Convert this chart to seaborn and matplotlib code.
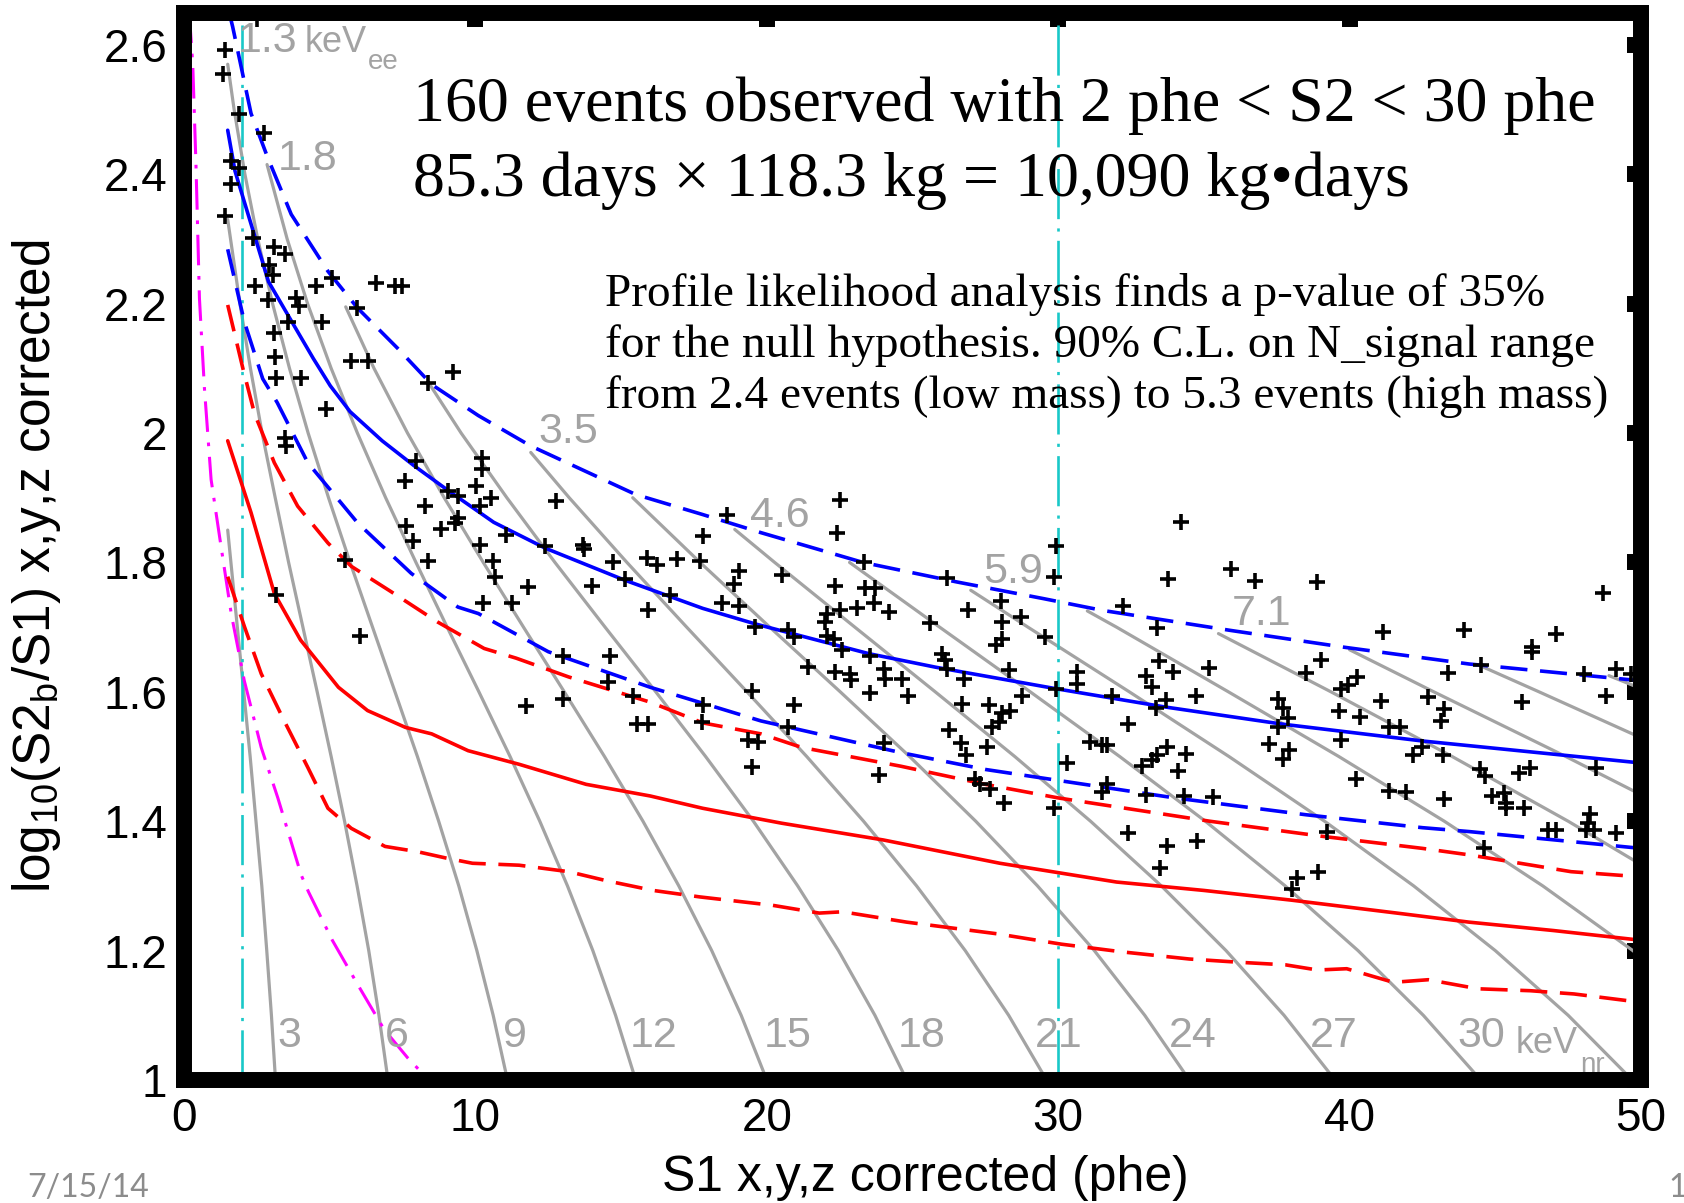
import matplotlib
matplotlib.use("Agg")
import matplotlib.pyplot as plt
import pandas as pd
import seaborn as sns

# ---------------- events (S1, log10(S2b/S1)) ----------------
event_s1 = [
    2.52, 1.39, 1.33, 1.90, 2.76, 1.62, 1.90, 1.62, 1.39, 2.36,
    3.10, 3.45, 2.90, 3.05, 2.42, 4.54, 5.08, 6.60, 7.23, 7.48,
    2.88, 3.85, 3.96, 3.58, 4.73, 5.95, 3.10, 3.13, 5.74, 6.33,
    3.16, 4.00, 8.37, 9.23, 4.88,
    3.45, 3.50, 7.97, 7.57, 10.21, 10.23, 8.26, 9.06, 9.40, 10.03,
    10.55, 10.15, 7.63, 8.83, 9.29, 9.40, 7.86, 10.15, 11.06, 12.78,
    12.38, 13.70, 13.72, 14.73, 15.88, 15.13, 15.93, 8.37, 10.61, 10.67,
    11.81, 14.00, 5.51, 3.16, 6.03, 10.26, 11.24, 13.01, 14.61, 14.56,
    13.01, 11.75, 15.42, 15.53, 15.93,
    16.22, 16.91, 17.71, 17.80, 18.63, 16.69, 19.03, 18.86, 18.45, 19.03,
    19.60, 17.80, 17.77, 19.48, 19.37, 19.70,
    22.52, 22.41, 20.52, 23.32, 26.19, 29.91, 29.85, 22.35, 23.38, 23.72,
    23.67, 23.09, 22.52, 22.06, 22.00, 24.18, 22.06, 22.29, 22.58, 23.55,
    20.74, 20.92, 21.43, 22.35, 22.86, 22.90, 24.01, 24.04, 24.64, 24.85,
    23.55, 25.61, 26.91, 28.02, 28.08, 28.71, 28.08, 27.85, 29.56, 26.01,
    26.13, 26.19, 28.31, 26.76, 29.91, 30.65, 30.65, 28.76, 26.70, 27.62,
    28.08, 28.36, 27.96, 27.73, 26.24, 20.95, 20.74, 19.48, 24.01, 23.84,
    26.65, 26.82, 27.56, 30.31, 27.16, 27.33, 27.67, 28.13, 29.85,
    34.20, 33.77, 35.92, 36.76, 38.87, 32.22, 33.40, 41.13, 33.46, 33.94,
    35.18, 33.00, 33.23, 31.83, 33.71, 34.72, 33.34, 32.41, 39.01, 38.50,
    37.53, 37.70, 37.90, 37.53, 39.70, 39.93, 40.24, 39.62, 40.35, 41.08,
    41.36, 41.73, 39.70, 42.17, 42.50, 37.22, 37.93, 37.70, 31.09, 31.51,
    31.68, 32.86, 33.23, 33.40, 33.75, 34.40, 34.12, 31.68, 31.49, 33.02,
    34.32, 35.32, 40.22, 41.36, 41.94, 32.41, 33.75, 34.78, 33.48, 39.24,
    38.18, 38.90, 38.04,
    48.69, 43.93, 47.10, 46.27, 46.27, 43.38, 44.50, 48.06, 49.15, 49.67,
    42.68, 43.25, 43.14, 45.90, 48.79, 43.22, 43.25, 44.46, 44.66, 45.83,
    46.20, 48.45, 44.88, 45.30, 45.36, 45.36, 45.97, 48.24, 48.18, 48.10,
    48.40, 46.80, 47.10, 49.13, 44.60,
]
event_logr = [
    2.640, 2.592, 2.555, 2.493, 2.463, 2.421, 2.410, 2.385, 2.335, 2.302,
    2.287, 2.276, 2.260, 2.245, 2.227, 2.227, 2.240, 2.232, 2.227, 2.227,
    2.206, 2.208, 2.196, 2.172, 2.172, 2.194, 2.155, 2.118, 2.112, 2.112,
    2.085, 2.085, 2.078, 2.094, 2.037,
    1.993, 1.980, 1.957, 1.926, 1.962, 1.944, 1.887, 1.910, 1.903, 1.918,
    1.900, 1.887, 1.856, 1.851, 1.861, 1.869, 1.833, 1.827, 1.843, 1.895,
    1.825, 1.827, 1.820, 1.800, 1.807, 1.774, 1.726, 1.802, 1.802, 1.778,
    1.762, 1.764, 1.804, 1.750, 1.687, 1.737, 1.738, 1.656, 1.656, 1.615,
    1.589, 1.578, 1.594, 1.550, 1.550,
    1.796, 1.805, 1.802, 1.841, 1.874, 1.750, 1.786, 1.767, 1.738, 1.733,
    1.700, 1.579, 1.553, 1.602, 1.525, 1.523,
    1.897, 1.846, 1.781, 1.800, 1.776, 1.825, 1.778, 1.763, 1.760, 1.760,
    1.737, 1.729, 1.726, 1.721, 1.708, 1.724, 1.687, 1.682, 1.664, 1.656,
    1.695, 1.685, 1.639, 1.630, 1.628, 1.618, 1.636, 1.620, 1.620, 1.594,
    1.598, 1.707, 1.727, 1.741, 1.708, 1.716, 1.681, 1.672, 1.685, 1.659,
    1.649, 1.636, 1.634, 1.620, 1.605, 1.630, 1.612, 1.594, 1.581, 1.579,
    1.567, 1.571, 1.554, 1.545, 1.541, 1.579, 1.545, 1.484, 1.521, 1.472,
    1.521, 1.503, 1.514, 1.490, 1.465, 1.458, 1.450, 1.428, 1.421,
    1.862, 1.774, 1.790, 1.772, 1.770, 1.733, 1.698, 1.693, 1.648, 1.630,
    1.637, 1.625, 1.608, 1.594, 1.587, 1.593, 1.575, 1.551, 1.649, 1.629,
    1.589, 1.575, 1.559, 1.546, 1.605, 1.611, 1.623, 1.571, 1.561, 1.586,
    1.546, 1.546, 1.525, 1.503, 1.514, 1.520, 1.510, 1.496, 1.523, 1.518,
    1.518, 1.485, 1.494, 1.502, 1.514, 1.504, 1.477, 1.457, 1.445, 1.440,
    1.439, 1.437, 1.465, 1.446, 1.445, 1.382, 1.361, 1.369, 1.328, 1.383,
    1.312, 1.321, 1.295,
    1.753, 1.696, 1.689, 1.669, 1.662, 1.629, 1.642, 1.627, 1.636, 1.627,
    1.592, 1.573, 1.555, 1.585, 1.594, 1.502, 1.435, 1.480, 1.470, 1.475,
    1.483, 1.483, 1.439, 1.444, 1.428, 1.420, 1.421, 1.411, 1.397, 1.387,
    1.387, 1.387, 1.387, 1.382, 1.359,
]

# ---------------- ER band (blue) ----------------
er_mid_s1 = [1.5, 1.75, 2.2, 2.9, 3.7, 4.44, 5.02, 5.7, 6.8, 7.88, 9.1, 10.63,
             12.4, 15.1, 17.8, 19.6, 23.5, 25.8, 29.9, 33.6, 37.7, 42.5, 50.0]
er_mid_y = [2.468, 2.405, 2.338, 2.234, 2.172, 2.115, 2.073, 2.033, 1.988, 1.950,
            1.910, 1.862, 1.822, 1.773, 1.729, 1.705, 1.659, 1.638, 1.605, 1.577,
            1.550, 1.524, 1.490]
er_hi_s1 = [1.55, 1.67, 2.3, 2.87, 3.68, 4.94, 5.96, 7.33, 8.5, 10.1, 11.9, 15.5,
            17.8, 19.8, 23.3, 26.5, 29.5, 31.5, 35.9, 39.8, 44.1, 50.0]
er_hi_y = [2.650, 2.628, 2.494, 2.426, 2.338, 2.250, 2.193, 2.131, 2.075, 2.027,
           1.980, 1.905, 1.874, 1.846, 1.800, 1.770, 1.744, 1.726, 1.695, 1.669,
           1.643, 1.617]
er_lo_s1 = [1.5, 2.07, 2.7, 3.2, 4.25, 5.96, 7.8, 9.4, 10.1, 12.5, 16.0, 19.8,
            24.6, 27.5, 30.6, 34.0, 38.5, 42.5, 44.1, 50.0]
er_lo_y = [2.284, 2.172, 2.084, 2.047, 1.954, 1.861, 1.783, 1.731, 1.721, 1.662,
           1.607, 1.555, 1.506, 1.480, 1.459, 1.436, 1.410, 1.390, 1.384, 1.358]

# ---------------- NR band (red) ----------------
nr_mid_s1 = [1.5, 2.3, 3.1, 4.0, 5.3, 6.3, 7.6, 8.5, 9.75, 11.5, 13.8, 16.0, 17.8,
             20.5, 24.0, 28.0, 32.0, 35.0, 38.0, 41.8, 44.1, 47.0, 50.0]
nr_mid_y = [1.988, 1.877, 1.752, 1.680, 1.607, 1.571, 1.545, 1.535, 1.509, 1.488,
            1.457, 1.439, 1.420, 1.397, 1.371, 1.335, 1.306, 1.293, 1.278, 1.257,
            1.244, 1.231, 1.216]
nr_hi_s1 = [1.5, 2.02, 2.42, 3.1, 3.9, 4.94, 5.74, 7.1, 8.7, 10.3, 11.4, 13.2, 16.0,
            17.8, 19.8, 21.2, 24.6, 27.5, 30.0, 35.2, 39.0, 42.5, 44.1, 47.6, 50.0]
nr_hi_y = [2.198, 2.100, 2.030, 1.954, 1.887, 1.830, 1.794, 1.755, 1.708, 1.667,
           1.652, 1.623, 1.584, 1.552, 1.535, 1.514, 1.485, 1.457, 1.436, 1.400,
           1.377, 1.358, 1.348, 1.322, 1.314]
nr_lo_s1 = [1.5, 2.08, 2.65, 3.44, 4.25, 4.94, 5.74, 6.9, 8.0, 9.0, 9.9, 11.5, 13.2,
            14.5, 16.1, 17.7, 20.2, 21.8, 22.6, 24.8, 27.9, 30.1, 32.2, 34.5, 36.2,
            37.8, 38.9, 39.9, 41.5, 42.7, 44.4, 46.2, 47.7, 50.0]
nr_lo_y = [1.778, 1.700, 1.628, 1.555, 1.483, 1.420, 1.389, 1.361, 1.353, 1.343,
           1.335, 1.332, 1.322, 1.308, 1.293, 1.283, 1.270, 1.258, 1.260, 1.244,
           1.226, 1.210, 1.198, 1.187, 1.182, 1.178, 1.170, 1.172, 1.151, 1.155,
           1.141, 1.138, 1.133, 1.120]

# ---------------- magenta dash-dot curve ----------------
mag_s1 = [0.18, 0.30, 0.41, 0.53, 0.70, 0.93, 1.27, 1.62, 2.07, 2.65, 3.22, 4.02,
          4.27, 5.09, 5.98, 6.87, 7.68, 8.40]
mag_y = [2.650, 2.570, 2.416, 2.208, 2.070, 1.928, 1.825, 1.721, 1.617, 1.514,
         1.436, 1.317, 1.291, 1.216, 1.146, 1.078, 1.034, 1.000]

# ---------------- S1 analysis thresholds (cyan) ----------------
s1_threshold = [2, 30]

# ---------------- gray constant-energy contours (keVnr) ----------------
nr3_s1 = [1.50, 1.61, 1.83, 2.05, 2.27, 2.47, 2.67, 2.84, 3.00, 3.14]
nr3_y = [1.85, 1.80, 1.70, 1.60, 1.50, 1.40, 1.30, 1.20, 1.10, 1.00]
nr6_s1 = [1.50, 1.92, 2.28, 2.68, 3.13, 3.59, 4.08, 4.57, 5.05, 5.51, 5.94, 6.34, 6.69, 7.00]
nr6_y = [2.33, 2.20, 2.10, 2.00, 1.90, 1.80, 1.70, 1.60, 1.50, 1.40, 1.30, 1.20, 1.10, 1.00]
nr9_s1 = [1.50, 1.72, 2.09, 2.53, 3.04, 3.62, 4.26, 4.96, 5.70, 6.47, 7.24, 8.01, 8.74,
          9.43, 10.05, 10.61, 11.10]
nr9_y = [2.57, 2.50, 2.40, 2.30, 2.20, 2.10, 2.00, 1.90, 1.80, 1.70, 1.60, 1.50, 1.40,
         1.30, 1.20, 1.10, 1.00]
nr12_s1 = [2.85, 3.54, 4.24, 5.05, 5.95, 6.92, 7.96, 9.03, 10.12, 11.19, 12.21, 13.16,
           14.03, 14.81, 15.50]
nr12_y = [2.415, 2.30, 2.20, 2.10, 2.00, 1.90, 1.80, 1.70, 1.60, 1.50, 1.40, 1.30,
          1.20, 1.10, 1.00]
nr15_s1 = [5.55, 6.52, 7.67, 8.93, 10.27, 11.65, 13.05, 14.43, 15.75, 16.98, 18.11, 19.12, 20.00]
nr15_y = [2.195, 2.10, 2.00, 1.90, 1.80, 1.70, 1.60, 1.50, 1.40, 1.30, 1.20, 1.10, 1.00]
nr18_s1 = [8.42, 9.51, 11.08, 12.73, 14.45, 16.19, 17.90, 19.54, 21.06, 22.46, 23.71, 24.80]
nr18_y = [2.076, 2.00, 1.90, 1.80, 1.70, 1.60, 1.50, 1.40, 1.30, 1.20, 1.10, 1.00]
nr21_s1 = [11.90, 13.22, 15.20, 17.25, 19.32, 21.37, 23.32, 25.14, 26.81, 28.30, 29.60]
nr21_y = [1.97, 1.90, 1.80, 1.70, 1.60, 1.50, 1.40, 1.30, 1.20, 1.10, 1.00]
nr24_s1 = [15.40, 17.71, 20.10, 22.52, 24.90, 27.17, 29.29, 31.24, 32.97, 34.50]
nr24_y = [1.90, 1.80, 1.70, 1.60, 1.50, 1.40, 1.30, 1.20, 1.10, 1.00]
nr27_s1 = [18.90, 20.27, 23.02, 25.78, 28.51, 31.11, 33.54, 35.76, 37.75, 39.50]
nr27_y = [1.851, 1.80, 1.70, 1.60, 1.50, 1.40, 1.30, 1.20, 1.10, 1.00]
nr30_s1 = [22.84, 25.93, 29.04, 32.11, 35.05, 37.79, 40.29, 42.53, 44.50]
nr30_y = [1.80, 1.70, 1.60, 1.50, 1.40, 1.30, 1.20, 1.10, 1.00]
nr33_s1 = [27.00, 28.96, 32.44, 35.86, 39.14, 42.20, 45.00, 47.50, 49.70]
nr33_y = [1.757, 1.70, 1.60, 1.50, 1.40, 1.30, 1.20, 1.10, 1.00]
nr36_s1 = [31.00, 32.00, 35.84, 39.63, 43.25, 46.63, 49.72, 50.00]
nr36_y = [1.725, 1.70, 1.60, 1.50, 1.40, 1.30, 1.20, 1.19]
nr39_s1 = [35.50, 39.36, 43.52, 47.50, 50.00]
nr39_y = [1.69, 1.60, 1.50, 1.40, 1.333]
nr42_s1 = [40.00, 42.89, 47.42, 50.00]
nr42_y = [1.665, 1.60, 1.50, 1.441]
nr45_s1 = [44.50, 46.50, 50.00]
nr45_y = [1.64, 1.60, 1.529]
nr48_s1 = [48.90, 50.00]
nr48_y = [1.625, 1.605]

# ---------------- labels ----------------
ee_labels = ["1.3", "1.8", "3.5", "4.6", "5.9", "7.1"]
ee_label_s1 = [1.85, 3.23, 12.15, 19.42, 27.42, 35.96]
ee_label_y = [2.589, 2.406, 1.985, 1.855, 1.768, 1.703]
nr_labels = ["3", "6", "9", "12", "15", "18", "21", "24", "27", "30"]
nr_label_s1 = [3.2, 6.88, 10.94, 15.3, 19.9, 24.5, 29.2, 33.8, 38.65, 43.7]
nr_label_y = 1.051

x_ticks = [0, 10, 20, 30, 40, 50]
x_tick_labels = ["0", "10", "20", "30", "40", "50"]
y_ticks = [1.0, 1.2, 1.4, 1.6, 1.8, 2.0, 2.2, 2.4, 2.6]
y_tick_labels = ["1", "1.2", "1.4", "1.6", "1.8", "2", "2.2", "2.4", "2.6"]

title_lines = ["160 events observed with 2 phe < S2 < 30 phe",
               "85.3 days \u00d7 118.3 kg = 10,090 kg\u2022days"]
note_lines = ["Profile likelihood analysis finds a p-value of 35%",
              "for the null hypothesis. 90% C.L. on N_signal range",
              "from 2.4 events (low mass) to 5.3 events (high mass)"]

# ---------------- style ----------------
sns.set_theme(style="white")
plt.rcParams["font.family"] = ["Liberation Sans", "DejaVu Sans"]
plt.rcParams["mathtext.fontset"] = "custom"
plt.rcParams["mathtext.rm"] = "Liberation Sans"
plt.rcParams["mathtext.it"] = "Liberation Sans:italic"
plt.rcParams["mathtext.bf"] = "Liberation Sans:bold"
plt.rcParams["mathtext.default"] = "regular"

GRAY = "#a3a3a3"
BLUE = "#0000ff"
RED = "#ff0000"
MAGENTA = "#ff00ff"
CYAN = "#19c8c8"
DASH = (0, (7.5, 3.5))

fig = plt.figure(figsize=(16.84, 12.03), dpi=100)
ax = fig.add_axes([184 / 1684, 1 - 1080 / 1203, (1641 - 184) / 1684, (1080 - 12.5) / 1203])

# contours
contour_sets = {
    3: (nr3_s1, nr3_y), 6: (nr6_s1, nr6_y), 9: (nr9_s1, nr9_y), 12: (nr12_s1, nr12_y),
    15: (nr15_s1, nr15_y), 18: (nr18_s1, nr18_y), 21: (nr21_s1, nr21_y),
    24: (nr24_s1, nr24_y), 27: (nr27_s1, nr27_y), 30: (nr30_s1, nr30_y),
    33: (nr33_s1, nr33_y), 36: (nr36_s1, nr36_y), 39: (nr39_s1, nr39_y),
    42: (nr42_s1, nr42_y), 45: (nr45_s1, nr45_y), 48: (nr48_s1, nr48_y),
}
contours = pd.concat(
    [pd.DataFrame({"s1": xs, "logr": ys, "kev": k}) for k, (xs, ys) in contour_sets.items()],
    ignore_index=True)
sns.lineplot(data=contours, x="s1", y="logr", units="kev", estimator=None, sort=False,
             color=GRAY, linewidth=2.3, ax=ax, zorder=1, legend=False)


def curve(xs, ys, color, ls, lw=2.6, z=3):
    sns.lineplot(x=xs, y=ys, sort=False, estimator=None, color=color, linestyle=ls,
                 linewidth=lw, ax=ax, zorder=z, legend=False)


for xv in s1_threshold:
    ax.axvline(xv, color=CYAN, lw=1.9, linestyle=(0, (19, 3.5, 1.2, 3.5)), zorder=2)
curve(mag_s1, mag_y, MAGENTA, (0, (10, 3.5, 1.2, 3.5)), lw=2.2, z=2)

curve(er_mid_s1, er_mid_y, BLUE, "-")
curve(er_hi_s1, er_hi_y, BLUE, DASH)
curve(er_lo_s1, er_lo_y, BLUE, DASH)
curve(nr_mid_s1, nr_mid_y, RED, "-")
curve(nr_hi_s1, nr_hi_y, RED, DASH)
curve(nr_lo_s1, nr_lo_y, RED, DASH)

sns.scatterplot(x=event_s1, y=event_logr, marker="+", color="black", s=145,
                linewidth=2.6, ax=ax, zorder=4, legend=False)

# axes
ax.set_xlim(0, 50)
ax.set_ylim(1, 2.65)
ax.set_xticks(x_ticks)
ax.set_xticklabels(x_tick_labels)
ax.set_yticks(y_ticks)
ax.set_yticklabels(y_tick_labels)
ax.tick_params(axis="both", which="major", direction="in", length=10, width=11.5,
               color="black", top=True, right=True, labelsize=33, pad=12,
               labelcolor="black")
for sp in ax.spines.values():
    sp.set_visible(True)
    sp.set_linewidth(11.5)
    sp.set_color("black")
    sp.set_zorder(6)
ax.grid(False)

ax.set_xlabel("S1 x,y,z corrected (phe)", fontsize=36, va="center", color="black")
ax.xaxis.set_label_coords((925 - 184) / 1457, (1080 - 1178) / 1067.5)
ax.set_ylabel("log$_{10}$(S2$_b$/S1) x,y,z corrected", fontsize=37, va="center",
              ha="center", color="black")
ax.yaxis.set_label_coords((37 - 184) / 1457, 0.4815)

# gray energy labels
for lab, xv, yv in zip(ee_labels, ee_label_s1, ee_label_y):
    ax.text(xv, yv, lab, fontsize=31, color=GRAY, ha="left", va="baseline", zorder=5)
ax.text(4.15, 2.589, "keV", fontsize=26, color=GRAY, ha="left", va="baseline", zorder=5)
ax.text(6.3, 2.562, "ee", fontsize=20, color=GRAY, ha="left", va="baseline", zorder=5)
for lab, xv in zip(nr_labels, nr_label_s1):
    ax.text(xv, nr_label_y, lab, fontsize=31, color=GRAY, ha="left", va="baseline", zorder=5)
ax.text(45.7, 1.042, "keV", fontsize=26, color=GRAY, ha="left", va="baseline", zorder=5)
ax.text(47.9, 1.012, "nr", fontsize=20, color=GRAY, ha="left", va="baseline", zorder=5)

# annotations
serif = ["Liberation Serif", "DejaVu Serif"]
ax.text(7.86, 2.482, title_lines[0], fontsize=46, family=serif, color="black",
        ha="left", va="baseline", zorder=5)
ax.text(7.86, 2.367, title_lines[1], fontsize=46, family=serif, color="black",
        ha="left", va="baseline", zorder=5)
for line, yv in zip(note_lines, [2.196, 2.117, 2.039]):
    ax.text(14.44, yv, line, fontsize=34, family=serif, color="black",
            ha="left", va="baseline", zorder=5)

# slide footer
fig.text(27 / 1684, 6 / 1203, "7/15/14", fontsize=23, color="#8c8c8c",
         family=["Lato", "DejaVu Sans"], ha="left", va="baseline")
fig.text(1668 / 1684, 6 / 1203, "1", fontsize=23, color="#8c8c8c",
         family=["Lato", "DejaVu Sans"], ha="left", va="baseline")

fig.savefig("out.png", dpi=100)
